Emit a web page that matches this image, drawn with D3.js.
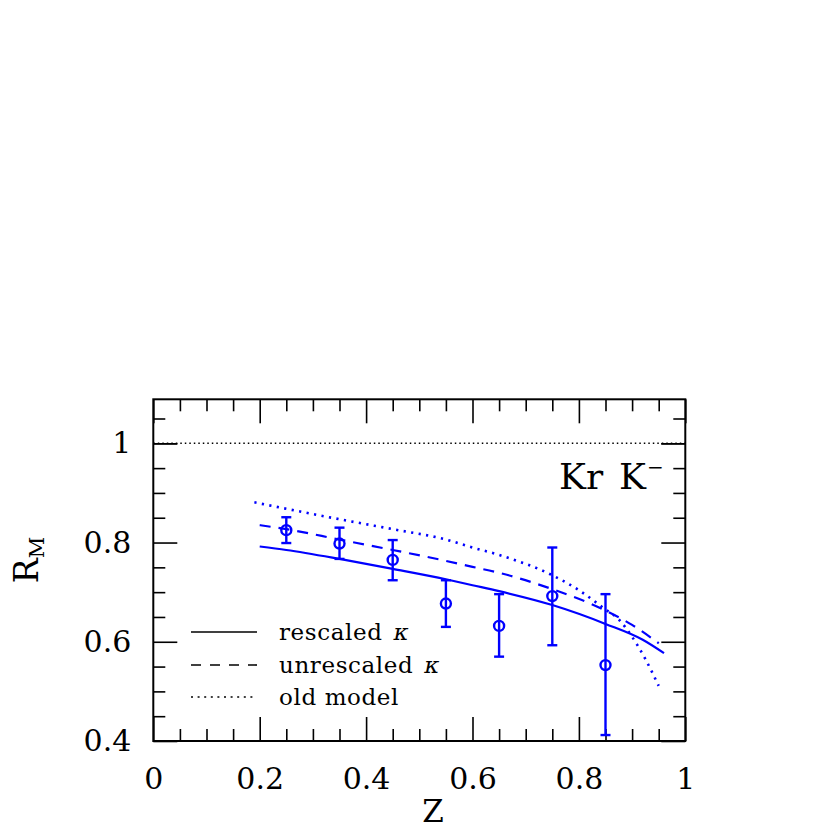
<!DOCTYPE html>
<html>
<head>
<meta charset="utf-8">
<script src="https://cdn.jsdelivr.net/npm/d3@7"></script>
<style>
  html, body { margin: 0; padding: 0; background: #fff; }
  svg { display: block; }
</style>
</head>
<body>
<svg id="chart" width="830" height="830"></svg>
<script>
// ---- Data ----
const xMajorTicks = [0, 0.2, 0.4, 0.6, 0.8, 1];
const xMinorTicks = [0.05, 0.1, 0.15, 0.25, 0.3, 0.35, 0.45, 0.5, 0.55, 0.65, 0.7, 0.75, 0.85, 0.9, 0.95];
const yMajorTicks = [0.4, 0.6, 0.8, 1];
const yMinorTicks = [0.45, 0.5, 0.55, 0.65, 0.7, 0.75, 0.85, 0.9, 0.95, 1.05];
const xTickLabels = ["0", "0.2", "0.4", "0.6", "0.8", "1"];
const yTickLabels = ["0.4", "0.6", "0.8", "1"];

// measured points: z, value, upper, lower
const dataZ     = [0.25, 0.35, 0.45, 0.55, 0.65, 0.75, 0.85];
const dataR     = [0.825, 0.798, 0.765, 0.677, 0.632, 0.692, 0.553];
const dataUpper = [0.851, 0.830, 0.805, 0.724, 0.696, 0.790, 0.696];
const dataLower = [0.799, 0.767, 0.724, 0.630, 0.570, 0.593, 0.412];

// model curves
const rescaledZ = [0.2, 0.25, 0.35, 0.45, 0.55, 0.6, 0.65, 0.75, 0.85, 0.92, 0.96];
const rescaledR = [0.792, 0.785, 0.767, 0.747, 0.726, 0.714, 0.702, 0.674, 0.636, 0.604, 0.577];

const unrescaledZ = [0.2, 0.25, 0.35, 0.45, 0.55, 0.6, 0.65, 0.75, 0.85, 0.9, 0.95];
const unrescaledR = [0.835, 0.827, 0.806, 0.785, 0.763, 0.751, 0.739, 0.706, 0.663, 0.634, 0.597];

const oldZ = [0.19, 0.25, 0.35, 0.45, 0.55, 0.6, 0.65, 0.75, 0.8, 0.85, 0.875, 0.9, 0.925, 0.95];
const oldR = [0.881, 0.868, 0.847, 0.827, 0.806, 0.790, 0.775, 0.734, 0.704, 0.665, 0.645, 0.610, 0.565, 0.511];

const refLineZ = [0, 1];
const refLineR = [1, 1];

const legendLabels = ["rescaled ", "unrescaled ", "old model"];

// ---- Setup ----
const svg = d3.select("#chart");
const L = 153.3, R = 685.3, T = 399.3, B = 741;
const x = d3.scaleLinear().domain([0, 1]).range([L, R]);
const y = d3.scaleLinear().domain([0.4, 1.0887]).range([B, T]);
const font = "DejaVu Serif";
const blue = "#0000ff";

svg.append("rect").attr("width", 830).attr("height", 830).attr("fill", "#fff");

// ---- Axes ticks (inward, all four sides) ----
function tickAxis(axisFn, scale, vals, size, tx, ty) {
  const g = svg.append("g").attr("transform", `translate(${tx},${ty})`)
    .call(axisFn(scale).tickValues(vals).tickSize(-size).tickFormat(""));
  g.select(".domain").remove();
  g.selectAll(".tick line").attr("stroke", "#000").attr("stroke-width", 1.6);
  return g;
}
tickAxis(d3.axisBottom, x, xMajorTicks, 24, 0, B);
tickAxis(d3.axisBottom, x, xMinorTicks, 12, 0, B);
tickAxis(d3.axisTop, x, xMajorTicks, 24, 0, T);
tickAxis(d3.axisTop, x, xMinorTicks, 12, 0, T);
tickAxis(d3.axisLeft, y, yMajorTicks, 24, L, 0);
tickAxis(d3.axisLeft, y, yMinorTicks, 12, L, 0);
tickAxis(d3.axisRight, y, yMajorTicks, 24, R, 0);
tickAxis(d3.axisRight, y, yMinorTicks, 12, R, 0);

// ---- Tick labels ----
const xl = svg.append("g").attr("transform", `translate(0,${B})`)
  .call(d3.axisBottom(x).tickValues(xMajorTicks).tickSize(0).tickPadding(27)
    .tickFormat((d, i) => xTickLabels[i]));
xl.select(".domain").remove();
xl.attr("font-family", font).attr("font-size", 30);
xl.selectAll("text").attr("fill", "#000");

const yl = svg.append("g").attr("transform", `translate(${L},0)`)
  .call(d3.axisLeft(y).tickValues(yMajorTicks).tickSize(0).tickPadding(22)
    .tickFormat((d, i) => yTickLabels[i]));
yl.select(".domain").remove();
yl.attr("font-family", font).attr("font-size", 30);
yl.selectAll("text").attr("fill", "#000");

// ---- Frame ----
svg.append("rect").attr("x", L).attr("y", T).attr("width", R - L).attr("height", B - T)
  .attr("fill", "none").attr("stroke", "#000").attr("stroke-width", 2);

// ---- Axis titles ----
svg.append("text").attr("x", 433).attr("y", 822).attr("text-anchor", "middle")
  .attr("font-family", font).attr("font-size", 31).text("Z");

const yt = svg.append("text").attr("transform", "translate(38,560) rotate(-90)")
  .attr("text-anchor", "middle").attr("font-family", font).attr("font-size", 33);
yt.append("tspan").text("R");
yt.append("tspan").attr("font-size", 21).attr("dy", 6).text("M");

// ---- Reference line y=1 ----
const line = d3.line().x(d => x(d[0])).y(d => y(d[1]));
svg.append("path").datum(d3.zip(refLineZ, refLineR)).attr("d", line)
  .attr("fill", "none").attr("stroke", "#000").attr("stroke-width", 1.5)
  .attr("stroke-dasharray", "1.5,3");

// re-draw the y=1 major ticks above the dotted line
tickAxis(d3.axisLeft, y, [1], 24, L, 0);
tickAxis(d3.axisRight, y, [1], 24, R, 0);

// ---- Curves ----
const curve = d3.line().x(d => x(d[0])).y(d => y(d[1])).curve(d3.curveMonotoneX);
svg.append("path").datum(d3.zip(rescaledZ, rescaledR)).attr("d", curve)
  .attr("fill", "none").attr("stroke", blue).attr("stroke-width", 2.2);
svg.append("path").datum(d3.zip(unrescaledZ, unrescaledR)).attr("d", curve)
  .attr("fill", "none").attr("stroke", blue).attr("stroke-width", 2.2)
  .attr("stroke-dasharray", "11,8");
svg.append("path").datum(d3.zip(oldZ, oldR)).attr("d", curve)
  .attr("fill", "none").attr("stroke", blue).attr("stroke-width", 2.6)
  .attr("stroke-dasharray", "2.2,5.4");

// ---- Data points with error bars ----
const pts = dataZ.map((z, i) => ({ z, r: dataR[i], hi: dataUpper[i], lo: dataLower[i] }));
const pg = svg.append("g").attr("stroke", blue).attr("fill", "none").attr("stroke-width", 2.4);
pts.forEach(p => {
  pg.append("line").attr("x1", x(p.z)).attr("x2", x(p.z)).attr("y1", y(p.hi)).attr("y2", y(p.lo));
  pg.append("line").attr("x1", x(p.z) - 5).attr("x2", x(p.z) + 5).attr("y1", y(p.hi)).attr("y2", y(p.hi));
  pg.append("line").attr("x1", x(p.z) - 5).attr("x2", x(p.z) + 5).attr("y1", y(p.lo)).attr("y2", y(p.lo));
  pg.append("circle").attr("cx", x(p.z)).attr("cy", y(p.r)).attr("r", 5).attr("fill", "none");
});

// ---- Annotation ----
const ann = svg.append("text").attr("x", 559).attr("y", 489)
  .attr("font-family", font).attr("font-size", 36);
ann.append("tspan").text("Kr");
ann.append("tspan").attr("x", 619).text("K");
ann.append("tspan").attr("font-size", 20).attr("dy", -15).attr("dx", 1).text("\u2212");

// ---- Legend ----
const legY = [632, 665, 697];
const legDash = [null, "10,9", "2,4.6"];
const lg = svg.append("g");
legY.forEach((ly, i) => {
  const l = lg.append("line").attr("x1", 191).attr("x2", 257).attr("y1", ly).attr("y2", ly)
    .attr("stroke", "#000").attr("stroke-width", 1.6);
  if (legDash[i]) l.attr("stroke-dasharray", legDash[i]);
  const t = lg.append("text").attr("x", 279).attr("y", ly + 8)
    .attr("font-family", font).attr("font-size", 23).attr("letter-spacing", 0.6)
    .text(legendLabels[i]);
  if (i < 2) t.append("tspan").attr("font-style", "italic").attr("dx", 3).text("\u03ba");
});
</script>
</body>
</html>
